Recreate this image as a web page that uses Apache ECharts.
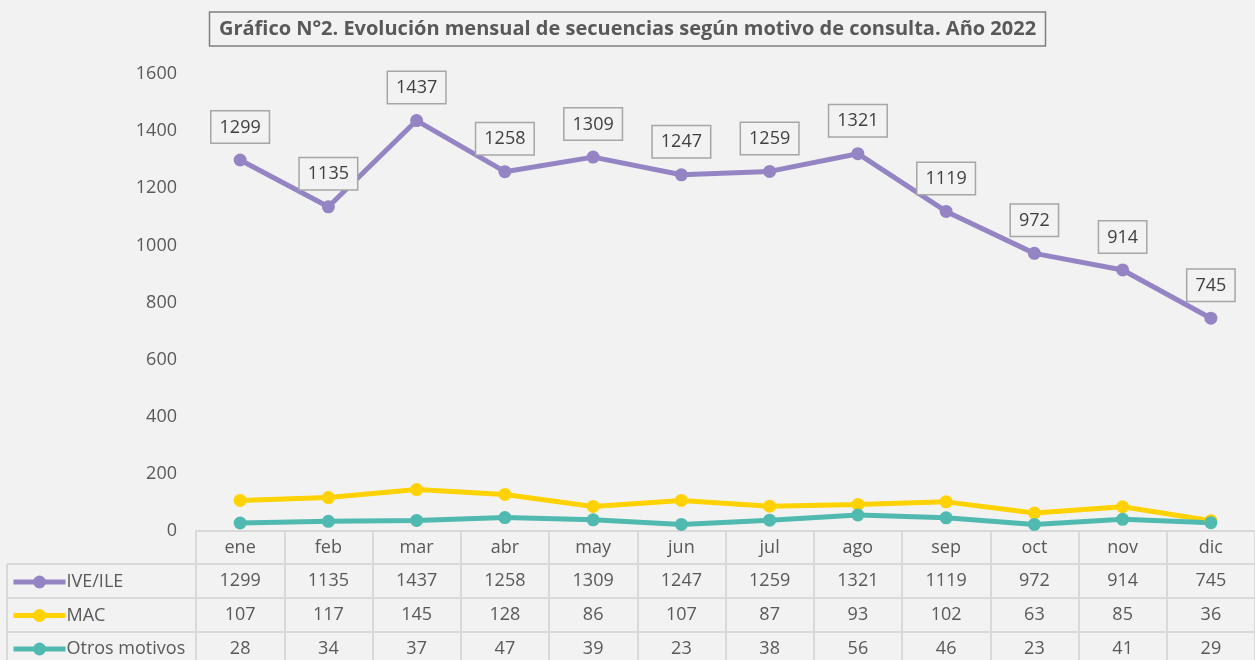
<!DOCTYPE html>
<html>
<head>
<meta charset="utf-8">
<script src="https://cdn.jsdelivr.net/npm/echarts@6/dist/echarts.min.js"></script>
<style>
  html, body { margin: 0; padding: 0; background: #f2f2f2; }
  #chart { width: 1255px; height: 660px; }
</style>
</head>
<body>
<div id="chart"></div>
<script>
// datos del gráfico
var months = ['ene', 'feb', 'mar', 'abr', 'may', 'jun', 'jul', 'ago', 'sep', 'oct', 'nov', 'dic'];
var ive = [1299, 1135, 1437, 1258, 1309, 1247, 1259, 1321, 1119, 972, 914, 745];
var mac = [107, 117, 145, 128, 86, 107, 87, 93, 102, 63, 85, 36];
var otros = [28, 34, 37, 47, 39, 23, 38, 56, 46, 23, 41, 29];
var yTicks = [0, 200, 400, 600, 800, 1000, 1200, 1400, 1600];

var txt = '#595959';
var gridLine = '#d9d9d9';
var font = 'Open Sans';

// filas de la tabla de datos = ejes x extra con offset
function rowAxis(values, offset) {
  return {
    type: 'category',
    data: months,
    position: 'bottom',
    offset: offset,
    axisLine: { show: true, lineStyle: { color: gridLine, width: 2 } },
    axisTick: { show: false },
    axisLabel: {
      margin: 8, fontSize: 18, color: txt, fontFamily: font, interval: 0,
      formatter: function (v, i) { return String(values[i]); }
    }
  };
}

var chart = echarts.init(document.getElementById('chart'));
chart.setOption({
  backgroundColor: '#f2f2f2',
  animation: false,
  title: {
    text: 'Gráfico N°2. Evolución mensual de secuencias según motivo de consulta. Año 2022',
    left: 'center',
    top: 12,
    padding: [7, 10],
    borderColor: '#808080',
    borderWidth: 1.5,
    textStyle: { fontSize: 20, fontWeight: 'bold', color: txt, fontFamily: font }
  },
  legend: {
    orient: 'vertical',
    left: 11,
    top: 573,
    height: 110,
    padding: 0,
    itemWidth: 52,
    itemHeight: 16,
    itemGap: 15.5,
    lineStyle: { width: 5 },
    textStyle: { fontSize: 18, color: txt, fontFamily: font, padding: [0, 0, 0, -4] },
    data: ['IVE/ILE', 'MAC', 'Otros motivos']
  },
  grid: { left: 196, right: -12, top: 74, bottom: 129 },
  xAxis: [
    {
      type: 'category',
      data: months,
      position: 'bottom',
      axisLine: { show: true, lineStyle: { color: gridLine, width: 2 } },
      axisTick: { show: true, length: 132, lineStyle: { color: gridLine, width: 2 } },
      axisLabel: { margin: 8, fontSize: 18, color: txt, fontFamily: font, interval: 0 }
    },
    rowAxis(ive, 33),
    rowAxis(mac, 67),
    rowAxis(otros, 101)
  ],
  yAxis: {
    type: 'value',
    min: 0,
    max: yTicks[yTicks.length - 1],
    interval: 200,
    axisLine: { show: false },
    axisTick: { show: false },
    splitLine: { show: false },
    axisLabel: {
      margin: 19, fontSize: 18, color: txt, fontFamily: font,
      formatter: function (v) { return String(v); }
    }
  },
  graphic: [
    { type: 'line', shape: { x1: 7, y1: 564, x2: 196, y2: 564 }, style: { stroke: gridLine, lineWidth: 2 } },
    { type: 'line', shape: { x1: 7, y1: 598, x2: 196, y2: 598 }, style: { stroke: gridLine, lineWidth: 2 } },
    { type: 'line', shape: { x1: 7, y1: 632, x2: 196, y2: 632 }, style: { stroke: gridLine, lineWidth: 2 } },
    { type: 'line', shape: { x1: 7, y1: 564, x2: 7, y2: 660 }, style: { stroke: gridLine, lineWidth: 2 } }
  ],
  series: [
    {
      name: 'IVE/ILE', type: 'line', data: ive,
      symbol: 'circle', symbolSize: 13,
      lineStyle: { width: 5, color: '#9584c4' },
      itemStyle: { color: '#9584c4' },
      label: {
        show: true, position: 'top', distance: 11,
        fontSize: 18, color: '#404040', fontFamily: font,
        backgroundColor: '#f2f2f2', borderColor: '#a6a6a6', borderWidth: 1.5,
        padding: [7, 8, 6, 8]
      },
      z: 3
    },
    {
      name: 'MAC', type: 'line', data: mac,
      symbol: 'circle', symbolSize: 13,
      lineStyle: { width: 5, color: '#ffd200' },
      itemStyle: { color: '#ffd200' },
      z: 2
    },
    {
      name: 'Otros motivos', type: 'line', data: otros,
      symbol: 'circle', symbolSize: 13,
      lineStyle: { width: 5, color: '#50bab1' },
      itemStyle: { color: '#50bab1' },
      z: 2
    }
  ]
});
</script>
</body>
</html>
